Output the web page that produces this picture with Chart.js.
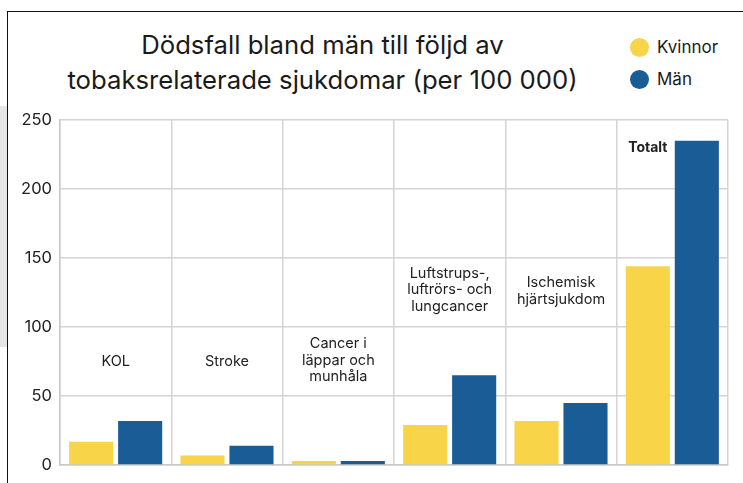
<!DOCTYPE html>
<html>
<head>
<meta charset="utf-8">
<script src="https://cdn.jsdelivr.net/npm/chart.js@4.4.0/dist/chart.umd.min.js"></script>
<style>
  body { margin: 0; width: 743px; height: 483px; background: #fff; overflow: hidden; position: relative; font-family: "Inter", "DejaVu Sans", sans-serif; color: #1a1a1a; }
  #side { position: absolute; left: 0; top: 106px; width: 7px; height: 241px; background: #e6e6e6; }
  #frame { position: absolute; left: 7px; top: 11px; width: 740px; height: 480px; border-left: 1.5px solid #111; border-top: 1.5px solid #111; }
  #title { position: absolute; left: 20px; width: 605px; top: 27px; text-align: center; font-size: 25.7px; line-height: 35px; }
  .leg { position: absolute; left: 630px; font-size: 17px; display: flex; align-items: center; }
  .leg span { display: inline-block; width: 19px; height: 19px; border-radius: 50%; margin-right: 8px; }
  #chart { position: absolute; left: 0; top: 100px; }
</style>
</head>
<body>
<div id="side"></div>
<div id="frame"></div>
<div id="title">Dödsfall bland män till följd av<br>tobaksrelaterade sjukdomar (per 100 000)</div>
<div class="leg" style="top:37px"><span style="background:#F7D448"></span>Kvinnor</div>
<div class="leg" style="top:69px"><span style="background:#195C96"></span>Män</div>
<canvas id="chart" width="743" height="383"></canvas>
<script>
// data
var categories = ['KOL', 'Stroke', 'Cancer i läppar och munhåla', 'Luftstrups-, luftrörs- och lungcancer', 'Ischemisk hjärtsjukdom', 'Totalt'];
var labelLines = [['KOL'], ['Stroke'], ['Cancer i', 'läppar och', 'munhåla'], ['Luftstrups-,', 'luftrörs- och', 'lungcancer'], ['Ischemisk', 'hjärtsjukdom'], ['Totalt']];
var labelAt = [75, 75, 76, 127, 126, 230];
var kvinnor = [17, 7, 3, 29, 32, 144];
var man = [32, 14, 3, 65, 45, 235];
var yTicks = [0, 50, 100, 150, 200, 250];

// text labels inside the plot
var innerLabels = {
    id: 'innerLabels',
    afterDatasetsDraw: function (chart) {
        var ctx = chart.ctx;
        var x = chart.scales.x, y = chart.scales.y;
        ctx.save();
        ctx.fillStyle = '#222';
        ctx.textAlign = 'center';
        ctx.textBaseline = 'middle';
        labelLines.forEach(function (lines, i) {
            var cx = x.getPixelForValue(i);
            var last = i == labelLines.length - 1;
            if (last) {
                cx = chart.getDatasetMeta(0).data[i].x;
                ctx.font = 'bold 14px Inter, sans-serif';
            } else {
                ctx.font = '14.5px Inter, sans-serif';
            }
            var cy = y.getPixelForValue(labelAt[i]);
            var lh = 16.5;
            lines.forEach(function (t, j) {
                ctx.fillText(t, cx, cy + (j - (lines.length - 1) / 2) * lh);
            });
        });
        ctx.restore();
    }
};

drawChart();
function drawChart() {
    var ctx = document.getElementById('chart');
    new Chart(ctx, {
        type: 'bar',
        data: {
            labels: categories,
            datasets: [{
                label: 'Kvinnor',
                data: kvinnor,
                backgroundColor: '#F7D448'
            }, {
                label: 'Män',
                data: man,
                backgroundColor: '#195C96'
            }]
        },
        options: {
            responsive: false,
            animation: false,
            layout: {
                padding: { top: 20, right: 15, bottom: 13, left: 0 }
            },
            datasets: {
                bar: {
                    categoryPercentage: 0.88,
                    barPercentage: 0.9
                }
            },
            plugins: {
                legend: { display: false },
                tooltip: { enabled: false }
            },
            scales: {
                x: {
                    afterFit: function (s) { s.height = 0; },
                    ticks: { display: false },
                    grid: { color: '#d4d4d4', lineWidth: 1.5, offset: true, drawTicks: false },
                    border: { color: '#c8c8c8', width: 1.5 }
                },
                y: {
                    min: 0,
                    max: 250,
                    afterFit: function (s) { s.width = 60; },
                    afterBuildTicks: function (s) { s.ticks = yTicks.map(function (v) { return { value: v }; }); },
                    ticks: {
                        color: '#222',
                        padding: 8,
                        font: { family: 'Inter, sans-serif', size: 16.5 }
                    },
                    grid: { color: '#d4d4d4', lineWidth: 1.5, drawTicks: false },
                    border: { color: '#c8c8c8', width: 1.5 }
                }
            }
        },
        plugins: [innerLabels]
    });
}
</script>
</body>
</html>
